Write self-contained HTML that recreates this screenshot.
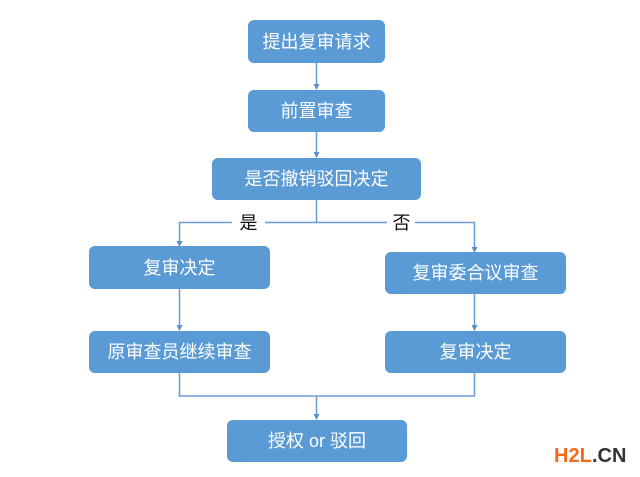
<!DOCTYPE html>
<html><head><meta charset="utf-8"><style>
html,body{margin:0;padding:0;background:#fff;}
svg{display:block;}
text{font-family:"Liberation Sans","Noto Sans CJK SC",sans-serif;}
</style></head><body>
<svg width="640" height="477" viewBox="0 0 640 477" xmlns="http://www.w3.org/2000/svg">
<g fill="none" stroke="#6b9bd0" stroke-width="1.5">
<line x1="316.5" y1="63" x2="316.5" y2="89"/>
<line x1="316.5" y1="132" x2="316.5" y2="157"/>
<polyline points="316.5,200 316.5,222.5 265,222.5"/>
<polyline points="232,222.5 179.5,222.5 179.5,245"/>
<polyline points="316.5,222.5 387,222.5"/>
<polyline points="415,222.5 474.5,222.5 474.5,251"/>
<line x1="179.5" y1="289" x2="179.5" y2="330"/>
<line x1="474.5" y1="294" x2="474.5" y2="330"/>
<polyline points="179.5,373 179.5,396 474.5,396 474.5,373"/>
<line x1="316.5" y1="396" x2="316.5" y2="419"/>
</g>
<g fill="#5b8fc9">
<path d="M313.5,84 L319.5,84 L316.5,90 Z"/>
<path d="M313.5,152 L319.5,152 L316.5,158 Z"/>
<path d="M176.5,241 L182.5,241 L179.5,247 Z"/>
<path d="M471.5,247 L477.5,247 L474.5,253 Z"/>
<path d="M176.5,325 L182.5,325 L179.5,331 Z"/>
<path d="M471.5,325 L477.5,325 L474.5,331 Z"/>
<path d="M313.5,414 L319.5,414 L316.5,420 Z"/>
</g>
<g fill="#5b9bd5">
<rect x="248" y="20" width="137" height="43" rx="6"/>
<rect x="248" y="90" width="137" height="42" rx="6"/>
<rect x="212" y="158" width="209" height="42" rx="6"/>
<rect x="89" y="246" width="181" height="43" rx="6"/>
<rect x="385" y="252" width="181" height="42" rx="6"/>
<rect x="89" y="331" width="181" height="42" rx="6"/>
<rect x="385" y="331" width="181" height="42" rx="6"/>
<rect x="227" y="420" width="180" height="42" rx="6"/>
</g>
<g fill="#fff" font-size="18" text-anchor="middle">
<text x="316.5" y="48">提出复审请求</text>
<text x="316.5" y="117">前置审查</text>
<text x="316.5" y="185">是否撤销驳回决定</text>
<text x="179.5" y="274">复审决定</text>
<text x="475.5" y="279">复审委合议审查</text>
<text x="179.5" y="358">原审查员继续审查</text>
<text x="475.5" y="358">复审决定</text>
<text x="317" y="447">授权 or 驳回</text>
</g>
<g fill="#111" font-size="18" text-anchor="middle">
<text x="248.5" y="229">是</text>
<text x="401.5" y="229">否</text>
</g>
<g font-size="20" font-weight="bold">
<text x="554" y="462" fill="#f26a1b">H2L</text>
<text x="592" y="462" fill="#333">.CN</text>
</g>
</svg>
</body></html>
